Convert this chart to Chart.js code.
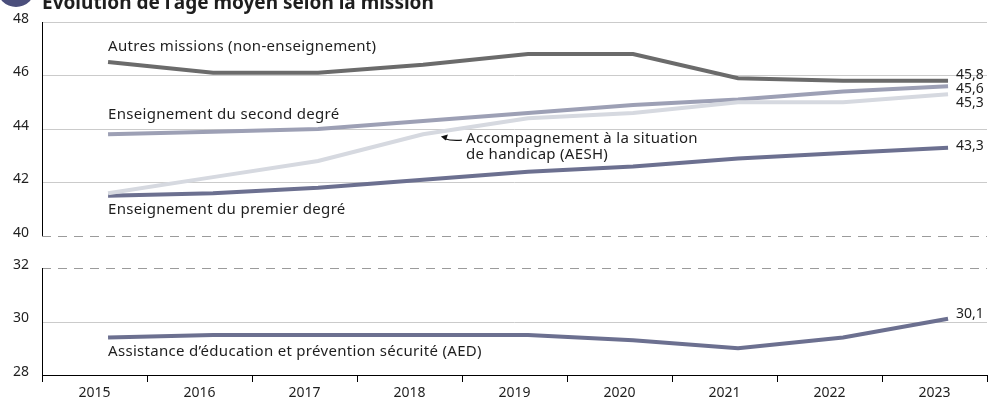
<!DOCTYPE html>
<html lang="fr">
<head>
<meta charset="utf-8">
<title>Évolution de l'âge moyen selon la mission</title>
<script src="https://cdn.jsdelivr.net/npm/chart.js@4.4.1/dist/chart.umd.min.js"></script>
<style>
  html, body { margin: 0; padding: 0; background: #fff; overflow: hidden; }
  #wrap { position: relative; width: 991px; height: 402px; }
  canvas { display: block; }
</style>
</head>
<body>
<div id="wrap"><canvas id="chart" width="991" height="402"></canvas></div>
<script>
// data
const years = ['2015', '2016', '2017', '2018', '2019', '2020', '2021', '2022', '2023'];
const autresMissions = [46.5, 46.1, 46.1, 46.4, 46.8, 46.8, 45.9, 45.8, 45.8];
const secondDegre = [43.8, 43.9, 44.0, 44.3, 44.6, 44.9, 45.1, 45.4, 45.6];
const aesh = [41.6, 42.2, 42.8, 43.8, 44.4, 44.6, 45.0, 45.0, 45.3];
const premierDegre = [41.5, 41.6, 41.8, 42.1, 42.4, 42.6, 42.9, 43.1, 43.3];
const aed = [29.4, 29.5, 29.5, 29.5, 29.5, 29.3, 29.0, 29.4, 30.1];
const topTicks = [40, 42, 44, 46, 48];
const bottomTicks = [28, 30, 32];

// broken axis: top panel 40-48, bottom panel 28-32, gap between them
const GAP = 1.2;
const TOP_MIN = topTicks[0] - (bottomTicks[2] - bottomTicks[0]) - GAP;
const BOT_MAX = bottomTicks[2] + GAP + (topTicks[4] - topTicks[0]);
// points sit a bit right of the category centres
const X_SHIFT = 0.629;

const FONT = '"Noto Sans", "Open Sans", sans-serif';
const TEXT = '#1e1e1e';

const toXY = arr => arr.map((v, i) => ({x: i, y: v}));
const fmt = v => v.toFixed(1).replace('.', ',');

function line(label, values, color, axis) {
  return {
    label: label,
    data: toXY(values),
    borderColor: color,
    backgroundColor: color,
    borderWidth: 4,
    pointRadius: 0,
    tension: 0,
    xAxisID: 'xd',
    yAxisID: axis
  };
}

const datasets = [
  line('AESH', aesh, '#d6d9e0', 'yTop'),
  line('Second degré', secondDegre, '#9da0b5', 'yTop'),
  line('Premier degré', premierDegre, '#6c7090', 'yTop'),
  line('Autres missions', autresMissions, '#6b6b6b', 'yTop'),
  line('AED', aed, '#6c7090', 'yBot')
];

// value labels at the end of the lines (dy in px)
const endLabels = [
  {data: autresMissions, axis: 'yTop', dy: -6},
  {data: secondDegre, axis: 'yTop', dy: 3},
  {data: aesh, axis: 'yTop', dy: 9},
  {data: premierDegre, axis: 'yTop', dy: -2},
  {data: aed, axis: 'yBot', dy: -5}
];

const decor = {
  id: 'decor',
  beforeDatasetsDraw(chart) {
    const ctx = chart.ctx;
    const area = chart.chartArea;
    const yT = chart.scales.yTop, yB = chart.scales.yBot;
    ctx.save();
    ctx.lineWidth = 1;
    const hline = (y, dashed) => {
      ctx.strokeStyle = dashed ? '#9b9b9b' : '#cbcbcb';
      ctx.setLineDash(dashed ? [9, 7] : []);
      ctx.beginPath();
      ctx.moveTo(area.left, Math.round(y) + 0.5);
      ctx.lineTo(area.right, Math.round(y) + 0.5);
      ctx.stroke();
    };
    topTicks.forEach(v => hline(yT.getPixelForValue(v), v === topTicks[0]));
    bottomTicks.slice(1).forEach(v => hline(yB.getPixelForValue(v), v === bottomTicks[2]));
    ctx.setLineDash([]);

    // left axis, broken
    ctx.strokeStyle = '#000';
    const lx = Math.round(area.left) + 0.5;
    ctx.beginPath();
    ctx.moveTo(lx, yT.getPixelForValue(topTicks[4]));
    ctx.lineTo(lx, yT.getPixelForValue(topTicks[0]));
    ctx.moveTo(lx, yB.getPixelForValue(bottomTicks[2]));
    ctx.lineTo(lx, yB.getPixelForValue(bottomTicks[0]));
    ctx.stroke();

    // y tick labels
    ctx.fillStyle = TEXT;
    ctx.font = '14px ' + FONT;
    ctx.textAlign = 'right';
    ctx.textBaseline = 'middle';
    topTicks.forEach(v => ctx.fillText(String(v), 29, yT.getPixelForValue(v) - 3));
    bottomTicks.forEach(v => ctx.fillText(String(v), 29, yB.getPixelForValue(v) - 3));
    ctx.restore();
  },
  afterDatasetsDraw(chart) {
    const ctx = chart.ctx;
    const xd = chart.scales.xd;
    const yT = chart.scales.yTop, yB = chart.scales.yBot;
    ctx.save();
    ctx.fillStyle = TEXT;
    ctx.font = '15px ' + FONT;
    ctx.letterSpacing = '0.3px';
    ctx.textAlign = 'left';
    ctx.textBaseline = 'middle';

    const put = (txt, xi, v, scale) => ctx.fillText(txt, xd.getPixelForValue(xi), scale.getPixelForValue(v));
    put('Autres missions (non-enseignement)', 0, 47.07, yT);
    put('Enseignement du second degré', 0, 44.52, yT);
    put('Enseignement du premier degré', 0, 40.97, yT);
    put('Accompagnement à la situation', 3.41, 43.63, yT);
    put('de handicap (AESH)', 3.41, 43.03, yT);
    put('Assistance d\u2019éducation et prévention sécurité (AED)', 0, 28.86, yB);

    // end values
    ctx.font = '14px ' + FONT;
    ctx.letterSpacing = '0px';
    const last = years.length - 1;
    endLabels.forEach(l => {
      const s = l.axis === 'yTop' ? yT : yB;
      ctx.fillText(fmt(l.data[last]), xd.getPixelForValue(last) + 8, s.getPixelForValue(l.data[last]) + l.dy);
    });

    // arrow towards the AESH line
    const sx = xd.getPixelForValue(3.37), sy = yT.getPixelForValue(43.58);
    const ex = xd.getPixelForValue(3.17), ey = yT.getPixelForValue(43.68);
    ctx.strokeStyle = '#111';
    ctx.lineWidth = 1.2;
    ctx.beginPath();
    ctx.moveTo(sx, sy);
    ctx.quadraticCurveTo((sx + ex) / 2, sy + 1, ex + 3, ey + 1);
    ctx.stroke();
    ctx.fillStyle = '#111';
    ctx.beginPath();
    ctx.moveTo(ex, ey - 1);
    ctx.lineTo(ex + 7, ey - 3);
    ctx.lineTo(ex + 5, ey + 3);
    ctx.closePath();
    ctx.fill();

    // title, cut by the top edge as in the source
    ctx.fillStyle = '#4b4f7c';
    ctx.beginPath();
    ctx.arc(16, -12, 19, 0, Math.PI * 2);
    ctx.fill();
    ctx.fillStyle = TEXT;
    ctx.font = 'bold 19px ' + FONT;
    ctx.textBaseline = 'alphabetic';
    ctx.fillText('Évolution de l\u2019âge moyen selon la mission', 42, 9);
    ctx.restore();
  }
};

new Chart(document.getElementById('chart'), {
  type: 'line',
  data: {
    labels: years,
    datasets: datasets
  },
  options: {
    responsive: false,
    animation: false,
    devicePixelRatio: 1,
    layout: { padding: { top: 22, right: 4, left: 0, bottom: 0 } },
    plugins: {
      legend: { display: false },
      tooltip: { enabled: false }
    },
    scales: {
      x: {
        type: 'category',
        position: 'bottom',
        offset: true,
        grid: { offset: true, drawOnChartArea: false, drawTicks: true, tickLength: 7, color: '#000' },
        border: { display: true, color: '#000', width: 1 },
        ticks: { color: TEXT, font: { family: FONT, size: 14 }, padding: 3, maxRotation: 0, autoSkip: false },
        afterFit(scale) { scale.height = 27; }
      },
      xd: {
        type: 'linear',
        display: false,
        min: -X_SHIFT,
        max: years.length - X_SHIFT
      },
      yTop: {
        type: 'linear',
        position: 'left',
        min: TOP_MIN,
        max: topTicks[4],
        grid: { display: false },
        border: { display: false },
        ticks: { display: false },
        afterFit(scale) { scale.width = 42; }
      },
      yBot: {
        type: 'linear',
        position: 'left',
        display: false,
        min: bottomTicks[0],
        max: BOT_MAX
      }
    }
  },
  plugins: [decor]
});
</script>
</body>
</html>
